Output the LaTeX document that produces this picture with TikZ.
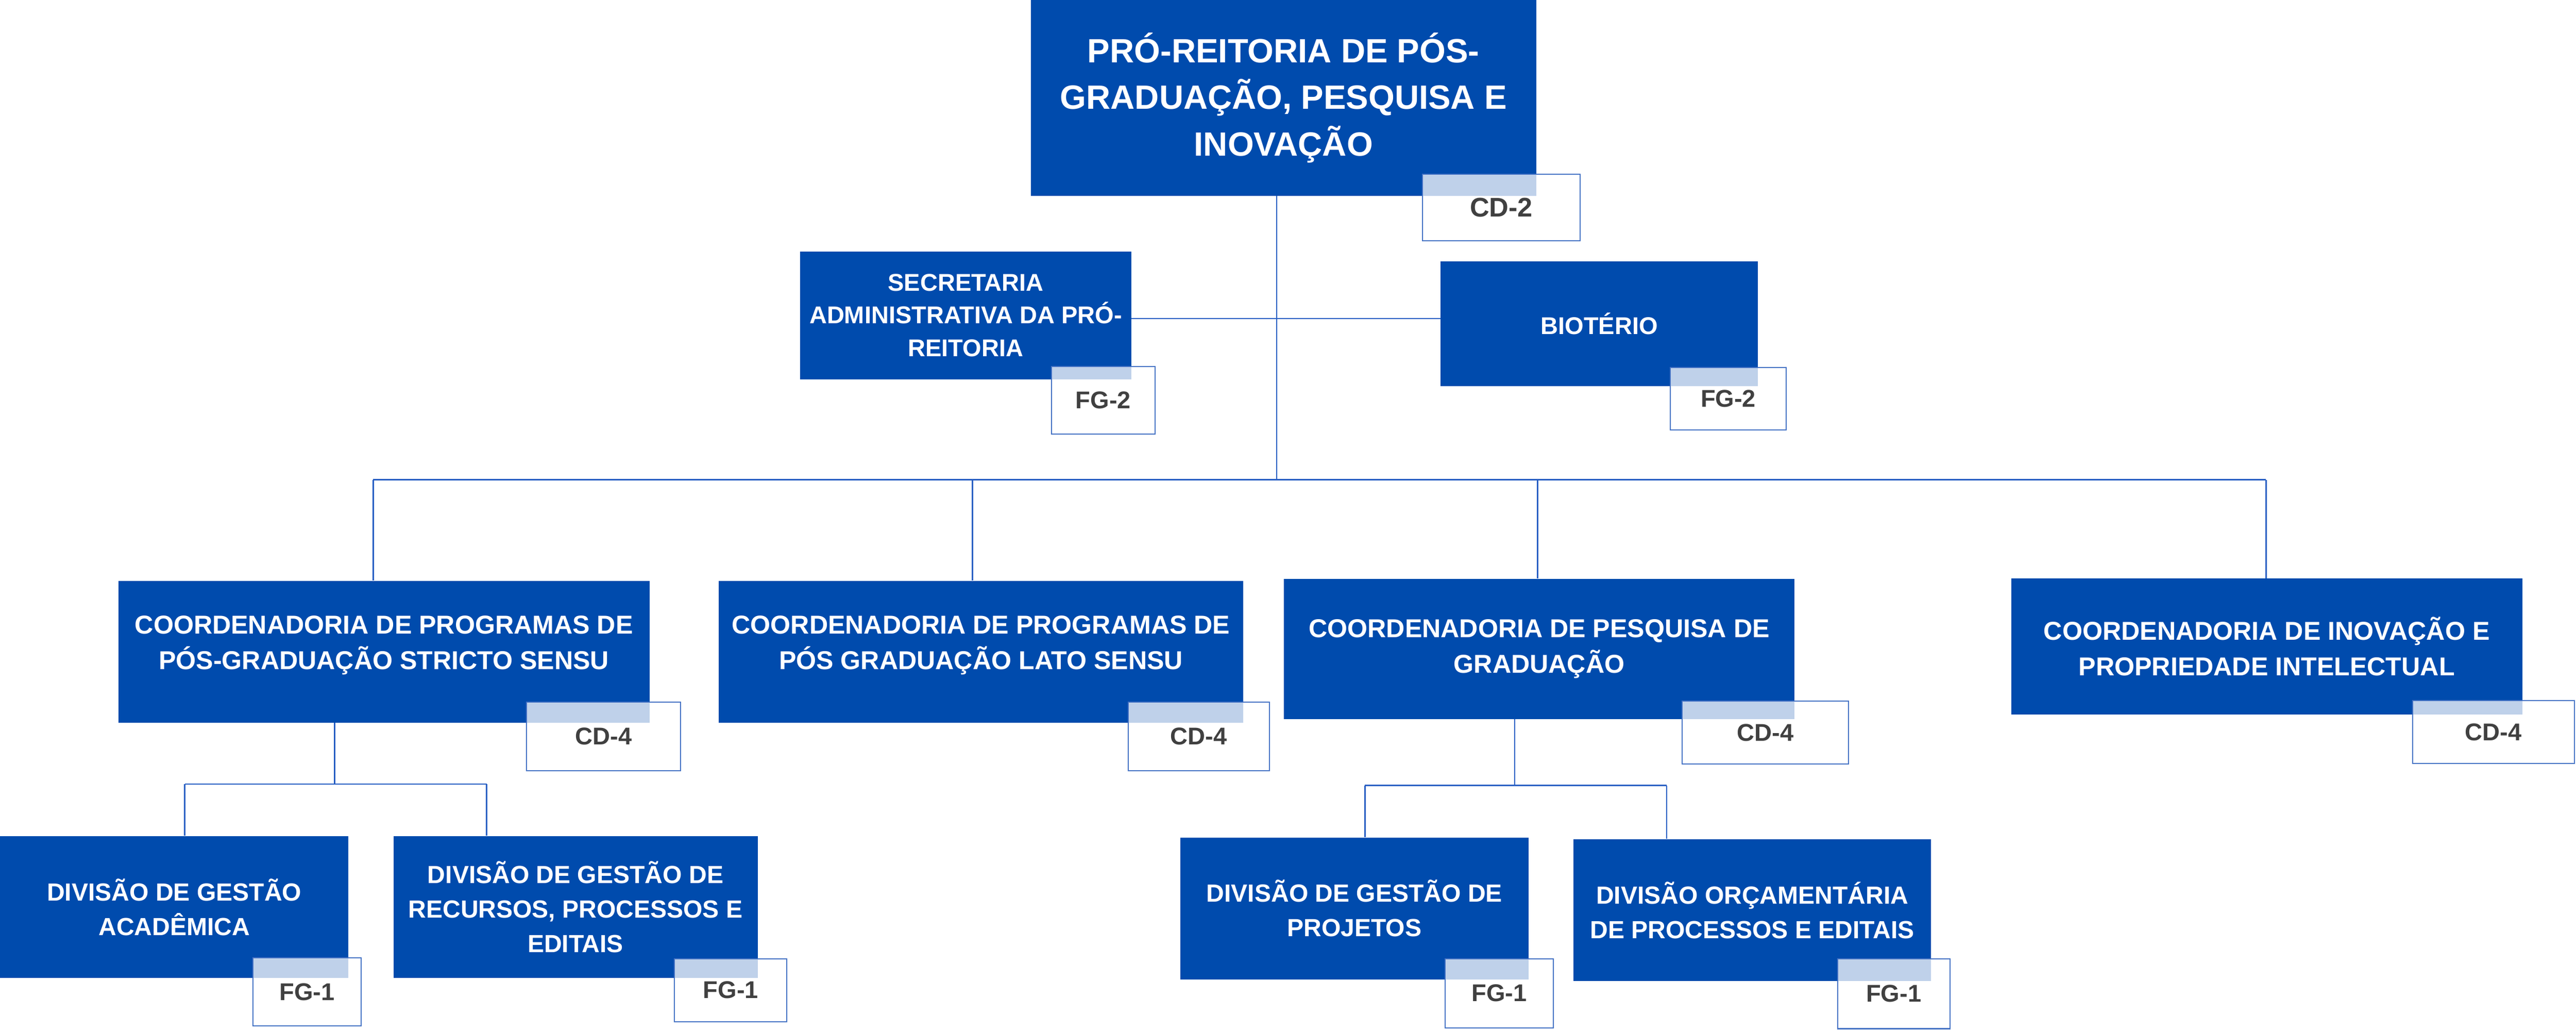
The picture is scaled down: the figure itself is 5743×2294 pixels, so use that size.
\documentclass[tikz,border=0pt]{standalone}
\usepackage{fontspec}
\setmainfont{Liberation Sans}
\definecolor{boxblue}{RGB}{0,75,173}
\definecolor{linkblue}{RGB}{40,95,195}
\definecolor{tagblue}{RGB}{68,114,196}
\definecolor{tagtext}{RGB}{64,64,64}
\tikzset{
  unitbox/.style={fill=boxblue, text=white, align=center, inner sep=0pt},
  fnttop/.style={font=\fontsize{18.75pt}{25.9pt}\selectfont\bfseries},
  fntsec/.style={font=\fontsize{13.5pt}{18.25pt}\selectfont\bfseries},
  fntcoord/.style={font=\fontsize{14.4pt}{19.75pt}\selectfont\bfseries},
  fntdiv/.style={font=\fontsize{13.8pt}{19.25pt}\selectfont\bfseries},
  tagbox/.style={draw=tagblue, line width=0.6pt, fill=white, fill opacity=0.75,
    text opacity=1, text=tagtext, inner sep=0pt,
    font=\fontsize{13.5pt}{16pt}\selectfont\bfseries},
  link/.style={draw=linkblue, line width=0.7pt},
}
\begin{document}
\begin{tikzpicture}[x=0.25pt, y=-0.25pt]
\fill[white] (0,0) rectangle (5743,2294);
\useasboundingbox (0,0) rectangle (5743,2294);

% --- main boxes ---
\node[unitbox, fnttop, minimum width=281.75pt, minimum height=109pt] (pr) at (2861.5,218)
  {PRÓ-REITORIA DE PÓS-\\GRADUAÇÃO, PESQUISA E\\INOVAÇÃO};
\node[unitbox, fntsec, minimum width=184.5pt, minimum height=71.25pt] (sec) at (2153,702.5)
  {SECRETARIA\\ADMINISTRATIVA DA PRÓ-\\REITORIA};
\node[unitbox, fntsec, minimum width=176.75pt, minimum height=69.5pt] (bio) at (3565.5,721)
  {BIOTÉRIO};
\node[unitbox, fntcoord, text depth=10pt, minimum width=296pt, minimum height=79pt] (str) at (856,1452)
  {COORDENADORIA DE PROGRAMAS DE\\PÓS-GRADUAÇÃO STRICTO SENSU};
\node[unitbox, fntcoord, text depth=10pt, minimum width=292.5pt, minimum height=79pt] (lat) at (2187,1452)
  {COORDENADORIA DE PROGRAMAS DE\\PÓS GRADUAÇÃO LATO SENSU};
\node[unitbox, fntcoord, minimum width=284.75pt, minimum height=78pt] (pes) at (3431.5,1446)
  {COORDENADORIA DE PESQUISA DE\\GRADUAÇÃO};
\node[unitbox, fntcoord, minimum width=284.75pt, minimum height=75.75pt] (ino) at (5053.5,1440.5)
  {COORDENADORIA DE INOVAÇÃO E\\PROPRIEDADE INTELECTUAL};
\node[unitbox, fntdiv, minimum width=194.25pt, minimum height=79pt] (aca) at (388.5,2021)
  {DIVISÃO DE GESTÃO\\ACADÊMICA};
\node[unitbox, fntdiv, minimum width=203pt, minimum height=79pt] (rec) at (1283,2021)
  {DIVISÃO DE GESTÃO DE\\RECURSOS, PROCESSOS E\\EDITAIS};
\node[unitbox, fntdiv, minimum width=194.25pt, minimum height=79pt] (prj) at (3019.5,2024)
  {DIVISÃO DE GESTÃO DE\\PROJETOS};
\node[unitbox, fntdiv, minimum width=199.25pt, minimum height=79pt] (orc) at (3906.5,2028)
  {DIVISÃO ORÇAMENTÁRIA\\DE PROCESSOS E EDITAIS};

% --- connectors ---
\coordinate (b0) at (2846,1069);
\coordinate (bl) at (832,1069);
\coordinate (bla) at (2168,1069);
\coordinate (bpe) at (3428,1069);
\coordinate (br) at (5052,1069);
\coordinate (m0) at (2846,710);
\coordinate (s0) at (746,1747);
\coordinate (s1) at (412,1747);
\coordinate (s2) at (1085,1747);
\coordinate (p0) at (3377,1750);
\coordinate (p1) at (3043,1750);
\coordinate (p2) at (3716,1750);

\draw[link] (b0 |- pr.south) -- (b0);
\draw[link] (sec.east |- m0) -- (bio.west |- m0);
\draw[link] (bl) -- (br);
\draw[link] (bl) -- (bl |- str.north);
\draw[link] (bla) -- (bla |- lat.north);
\draw[link] (bpe) -- (bpe |- pes.north);
\draw[link] (br) -- (br |- ino.north);
\draw[link] (s0 |- str.south) -- (s0);
\draw[link] (s1) -- (s2);
\draw[link] (s1) -- (s1 |- aca.north);
\draw[link] (s2) -- (s2 |- rec.north);
\draw[link] (p0 |- pes.south) -- (p0);
\draw[link] (p1) -- (p2);
\draw[link] (p1) -- (p1 |- prj.north);
\draw[link] (p2) -- (p2 |- orc.north);

% --- tags ---
\node[tagbox, font=\fontsize{15pt}{17pt}\selectfont\bfseries, minimum width=88pt, minimum height=37pt] (tpr) at (3347,462) {CD-2};
\node[tagbox, minimum width=57.75pt, minimum height=37.5pt] (tsec) at (2459.5,892) {FG-2};
\node[tagbox, minimum width=64.5pt, minimum height=34.75pt] (tbio) at (3853,888.5) {FG-2};
\node[tagbox, minimum width=85.75pt, minimum height=38.25pt] (tstr) at (1345.5,1640.5) {CD-4};
\node[tagbox, minimum width=78.75pt, minimum height=38.25pt] (tlat) at (2672.5,1640.5) {CD-4};
\node[tagbox, minimum width=92.75pt, minimum height=35pt] (tpes) at (3935.5,1632) {CD-4};
\node[tagbox, minimum width=90pt, minimum height=35pt] (tino) at (5559,1631) {CD-4};
\node[tagbox, minimum width=60.25pt, minimum height=38pt] (taca) at (684.5,2210) {FG-1};
\node[tagbox, minimum width=62.5pt, minimum height=35pt] (trec) at (1629,2206) {FG-1};
\node[tagbox, minimum width=60.25pt, minimum height=38.5pt] (tprj) at (3342.5,2213) {FG-1};
\node[tagbox, minimum width=62.5pt, minimum height=39pt] (torc) at (4222,2214) {FG-1};
\end{tikzpicture}
\end{document}
